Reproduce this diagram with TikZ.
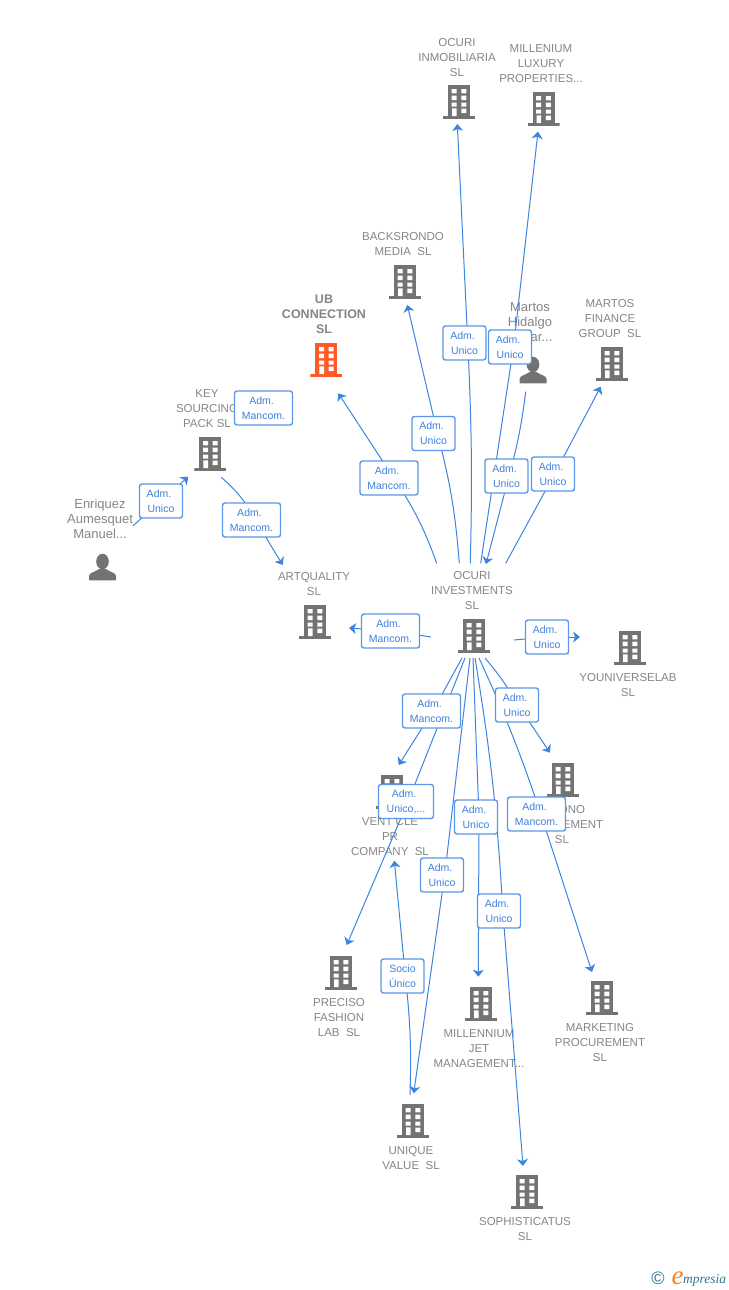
\documentclass[tikz,border=0pt]{standalone}
\usepackage{xcolor}
\usepackage{fontspec}
\setmainfont{Liberation Sans}
\newfontfamily\logofont{Liberation Serif}
\usepackage{tikz}
\usetikzlibrary{calc}
\usetikzlibrary{arrows.meta}
\usetikzlibrary{positioning}
\definecolor{linkblue}{HTML}{3C84E0}
\definecolor{boxblue}{HTML}{5A97E8}
\definecolor{labelblue}{HTML}{3F80DC}
\definecolor{capgray}{HTML}{858585}
\definecolor{icongray}{HTML}{737373}
\definecolor{iconorange}{HTML}{FF5A26}
\definecolor{logoteal}{HTML}{2F7390}
\definecolor{logoorange}{HTML}{F58220}
\pgfdeclarelayer{front}
\pgfsetlayers{main,front}
\newcommand{\adm}{Adm.\hspace*{4pt}}
\newcommand{\buildingpath}[1]{%
  \fill [#1] (-11,-17) rectangle (11,15);
  \fill [#1] (-16,14) rectangle (16,17);
  \fill [white] (-7.3,-13) rectangle (-2.3,-8.7) (2.3,-13) rectangle (7.3,-8.7);
  \fill [white] (-7.3,-6.3) rectangle (-2.3,-2) (2.3,-6.3) rectangle (7.3,-2);
  \fill [white] (-7.3,.7) rectangle (-2.3,4.7) (2.3,.7) rectangle (7.3,4.7);
  \fill [white] (-7,6.3) rectangle (-2.3,14) (2.3,6.7) rectangle (7.3,11);
}
\tikzset{>={Stealth[length=7pt,width=11pt,inset=2pt]}}
\tikzstyle{icon} = [rectangle, minimum width=32pt, minimum height=34pt, inner sep=0pt]
\tikzstyle{building} = [icon, path picture = {\begin{scope}[shift={(path picture bounding box.center)}]\buildingpath{icongray}\end{scope}}]
\tikzstyle{mainbuilding} = [icon, path picture = {\begin{scope}[shift={(path picture bounding box.center)}]\buildingpath{iconorange}\end{scope}}]
\tikzstyle{person} = [icon, path picture = {\begin{scope}[shift={(path picture bounding box.center)}]
  \fill [icongray] (0,-5.5) ellipse (6.3 and 7.8);
  \fill [icongray] (-13.5,13.3) -- (-13.5,9) .. controls (-13.5,5.5) and (-7,5) .. (-3.5,2) -- (3.5,2) .. controls (7,5) and (13.5,5.5) .. (13.5,9) -- (13.5,13.3) -- cycle;
\end{scope}}]
\tikzstyle{caption} = [align=center, inner sep=0pt, text=capgray, font=\fontsize{11.5}{15}\selectfont]
\tikzstyle{namecaption} = [caption, font=\fontsize{13}{15}\selectfont]
\tikzstyle{rolebox} = [rectangle, draw=boxblue, line width=1.4pt, rounded corners=2.5pt, fill=white, inner sep=0pt, minimum height=34pt, align=center, text=labelblue, font=\fontsize{10.5}{15}\selectfont]
\tikzstyle{widebox} = [rolebox, minimum width=58pt]
\tikzstyle{narrowbox} = [rolebox, minimum width=43pt]
\tikzstyle{link} = [draw=linkblue, line width=1pt]

\begin{document}
\begin{tikzpicture}[x=1pt, y=-1pt]
\useasboundingbox (0,0) rectangle (728,1290);
% companies and people
\node [building] (ocuriinmo) at (459,102) {};
\node [building] (millenium) at (543.5,109) {};
\node [building] (backsrondo) at (405,282) {};
\node [mainbuilding] (ubconn) at (326.3,360) {};
\node [person] (martos) at (533,370) {};
\node [building] (martosfin) at (612,364) {};
\node [building] (keysrc) at (210.3,454) {};
\node [person] (enriquez) at (102.5,567) {};
\node [building] (artquality) at (315,622) {};
\node [building] (ocuriinv) at (474,636) {};
\node [building] (youniverse) at (630,648) {};
\node [building] (ventcle) at (392,792) {};
\node [building] (ono) at (563,780) {};
\node [building] (preciso) at (341,973) {};
\node [building] (jet) at (481,1004) {};
\node [building] (marketing) at (602,998) {};
\node [building] (unique) at (413,1121) {};
\node [building] (sophist) at (527,1192) {};
% captions
\node [caption] (ocuriinmotxt) at (457,58) {OCURI\\INMOBILIARIA\\SL};
\node [caption] (milleniumtxt) at (541,64) {MILLENIUM\\LUXURY\\PROPERTIES...};
\node [caption] (backsrondotxt) at (403,244.5) {BACKSRONDO\\MEDIA\ \ SL};
\node [caption, font=\bfseries\fontsize{12.5}{15}\selectfont] (ubconntxt) at (324,314) {UB\\CONNECTION\\SL};
\node [namecaption] (martostxt) at (530,322) {Martos\\Hidalgo\\Oscar...};
\node [caption] (martosfintxt) at (610,319) {MARTOS\\FINANCE\\GROUP\ \ SL};
\node [caption] (keysrctxt) at (207,409) {KEY\\SOURCING\\PACK SL};
\node [namecaption] (enriqueztxt) at (100,519) {Enriquez\\Aumesquet\\Manuel...};
\node [caption] (artqualitytxt) at (314,584.5) {ARTQUALITY\\SL};
\node [caption] (ocuriinvtxt) at (472,591) {OCURI\\INVESTMENTS\\SL};
\node [caption] (youniversetxt) at (628,685.5) {YOUNIVERSELAB\\SL};
\node [caption] (ventcletxt) at (390,837) {VENT CLE\\PR\\COMPANY\ \ SL};
\node [caption] (onotxt) at (562,825) {\hspace*{20pt}ONO\\MANAGEMENT\\SL};
\node [caption] (precisotxt) at (339,1018) {PRECISO\\FASHION\\LAB\ \ SL};
\node [caption] (jettxt) at (479,1049) {MILLENNIUM\\JET\\MANAGEMENT...};
\node [caption] (marketingtxt) at (600,1043) {MARKETING\\PROCUREMENT\\SL};
\node [caption] (uniquetxt) at (411,1158.5) {UNIQUE\\VALUE\ \ SL};
\node [caption] (sophisttxt) at (525,1229.5) {SOPHISTICATUS\\SL};
% role boxes
\begin{pgfonlayer}{front}
\node [widebox] (keyub) at (263.5,408) {\adm\\Mancom.};
\node [narrowbox] (enrkey) at (161,501) {\adm\\Unico};
\node [widebox] (keyart) at (251.5,520) {\adm\\Mancom.};
\node [widebox] (invub) at (389,478) {\adm\\Mancom.};
\node [narrowbox] (invback) at (433.5,433.5) {\adm\\Unico};
\node [narrowbox] (invinmo) at (464.5,343) {\adm\\Unico};
\node [narrowbox] (invmill) at (510,347) {\adm\\Unico};
\node [narrowbox] (marinv) at (506.5,476) {\adm\\Unico};
\node [narrowbox] (invfin) at (553,474) {\adm\\Unico};
\node [widebox] (invart) at (390.5,631) {\adm\\Mancom.};
\node [narrowbox] (invyou) at (547,637) {\adm\\Unico};
\node [widebox] (invvent) at (431.5,711) {\adm\\Mancom.};
\node [narrowbox] (invono) at (517,705) {\adm\\Unico};
\node [rolebox, minimum width=55pt] (invprec) at (406,801.5) {\adm\\Unico,...};
\node [narrowbox] (invjet) at (476,817) {\adm\\Unico};
\node [widebox] (invmark) at (536.5,814) {\adm\\Mancom.};
\node [narrowbox] (invuniq) at (442,875) {\adm\\Unico};
\node [narrowbox] (invsoph) at (499,911) {\adm\\Unico};
\node [narrowbox] (univent) at (402.5,976) {Socio\\Único};
\end{pgfonlayer}
% connectors
\draw [link] ([shift={(30.2,-41)}]enriquez.center) to (enrkey.center);
\draw [link, ->] (enrkey.center) to ([shift={(-22,22.7)}]keysrc.center);
\draw [link] ([shift={(11,23.3)}]keysrc.center) to [bend left=10] ([xshift=4pt]keyart.center);
\draw [link, ->] ([xshift=4pt]keyart.center) to ([shift={(-32.3,-57)}]artquality.center);
\draw [link] ([shift={(-37.3,-72.7)}]ocuriinv.center) to [bend right=7] ([xshift=4.7pt]invub.center);
\draw [link, ->] ([xshift=4.7pt]invub.center) to ([shift={(12,33.3)}]ubconn.center);
\draw [link] ([shift={(-14.7,-72.7)}]ocuriinv.center) to [bend right=5] ([xshift=4pt]invback.center);
\draw [link, ->] ([xshift=4pt]invback.center) to ([shift={(2.3,23)}]backsrondo.center);
\draw [link] ([shift={(-3.7,-72.7)}]ocuriinv.center) to [bend right=2] ([xshift=3.3pt]invinmo.center);
\draw [link, ->] ([xshift=3.3pt]invinmo.center) to ([shift={(-1.7,22)}]ocuriinmo.center);
\draw [link] ([shift={(6.7,-72.7)}]ocuriinv.center) to ([xshift=3.5pt]invmill.center);
\draw [link, ->] ([xshift=3.5pt]invmill.center) to ([shift={(-5.5,22.7)}]millenium.center);
\draw [link] ([shift={(-7.3,21.7)}]martos.center) to [bend left=4] ([xshift=2.5pt]marinv.center);
\draw [link, ->] ([xshift=2.5pt]marinv.center) to ([shift={(12,-72)}]ocuriinv.center);
\draw [link] ([shift={(31.7,-72.7)}]ocuriinv.center) to ([xshift=1.5pt]invfin.center);
\draw [link, ->] ([xshift=1.5pt]invfin.center) to ([shift={(-11.3,22.7)}]martosfin.center);
\draw [link] ([shift={(-43,1)}]ocuriinv.center) to (invart.center);
\draw [link, ->] (invart.center) to ([shift={(34,6)}]artquality.center);
\draw [link] ([shift={(40,4)}]ocuriinv.center) to (invyou.center);
\draw [link, ->] (invyou.center) to ([shift={(-50,-11)}]youniverse.center);
\draw [link] ([shift={(-12,22)}]ocuriinv.center) to ([xshift=1.3pt]invvent.center);
\draw [link, ->] ([xshift=1.3pt]invvent.center) to ([shift={(6.7,-27)}]ventcle.center);
\draw [link] ([shift={(11,22)}]ocuriinv.center) to [bend left=5] ([xshift=1pt]invono.center);
\draw [link, ->] ([xshift=1pt]invono.center) to ([shift={(-13,-27.3)}]ono.center);
\draw [link] ([shift={(-9,22)}]ocuriinv.center) to ([xshift=2pt]invprec.center);
\draw [link, ->] ([xshift=2pt]invprec.center) to ([shift={(5.7,-28)}]preciso.center);
\draw [link] ([shift={(-1,22)}]ocuriinv.center) to ([xshift=3pt]invjet.center);
\draw [link, ->] ([xshift=3pt]invjet.center) to ([shift={(-2.7,-27.3)}]jet.center);
\draw [link] ([shift={(5,22)}]ocuriinv.center) to [bend left=3] ([xshift=4.3pt]invmark.center);
\draw [link, ->] ([xshift=4.3pt]invmark.center) to ([shift={(-10,-26)}]marketing.center);
\draw [link] ([shift={(-4,22)}]ocuriinv.center) to ([xshift=2.7pt]invuniq.center);
\draw [link, ->] ([xshift=2.7pt]invuniq.center) to ([shift={(.7,-27.7)}]unique.center);
\draw [link] ([shift={(1,22)}]ocuriinv.center) to [bend left=3] ([xshift=3.8pt]invsoph.center);
\draw [link, ->] ([xshift=3.8pt]invsoph.center) to ([shift={(-4,-26)}]sophist.center);
\draw [link] ([shift={(-3,-26)}]unique.center) to [bend right=4] ([xshift=2.8pt]univent.center);
\draw [link, ->] ([xshift=2.8pt]univent.center) to ([shift={(2.3,68.7)}]ventcle.center);
% logo
\node [inner sep=0pt, text=logoteal, font=\fontsize{18}{18}\selectfont] (logoc) at (658,1278.5) {©};
\node [inner sep=0pt, anchor=base, text=logoorange, font=\logofont\itshape\fontsize{27}{27}\selectfont] (logoe) at (677.5,1284.5) {e};
\node [inner sep=0pt, anchor=base west, text=logoteal, font=\logofont\itshape\fontsize{13.5}{13.5}\selectfont] (logotxt) at (683,1283.5) {mpresia};
\end{tikzpicture}
\end{document}
